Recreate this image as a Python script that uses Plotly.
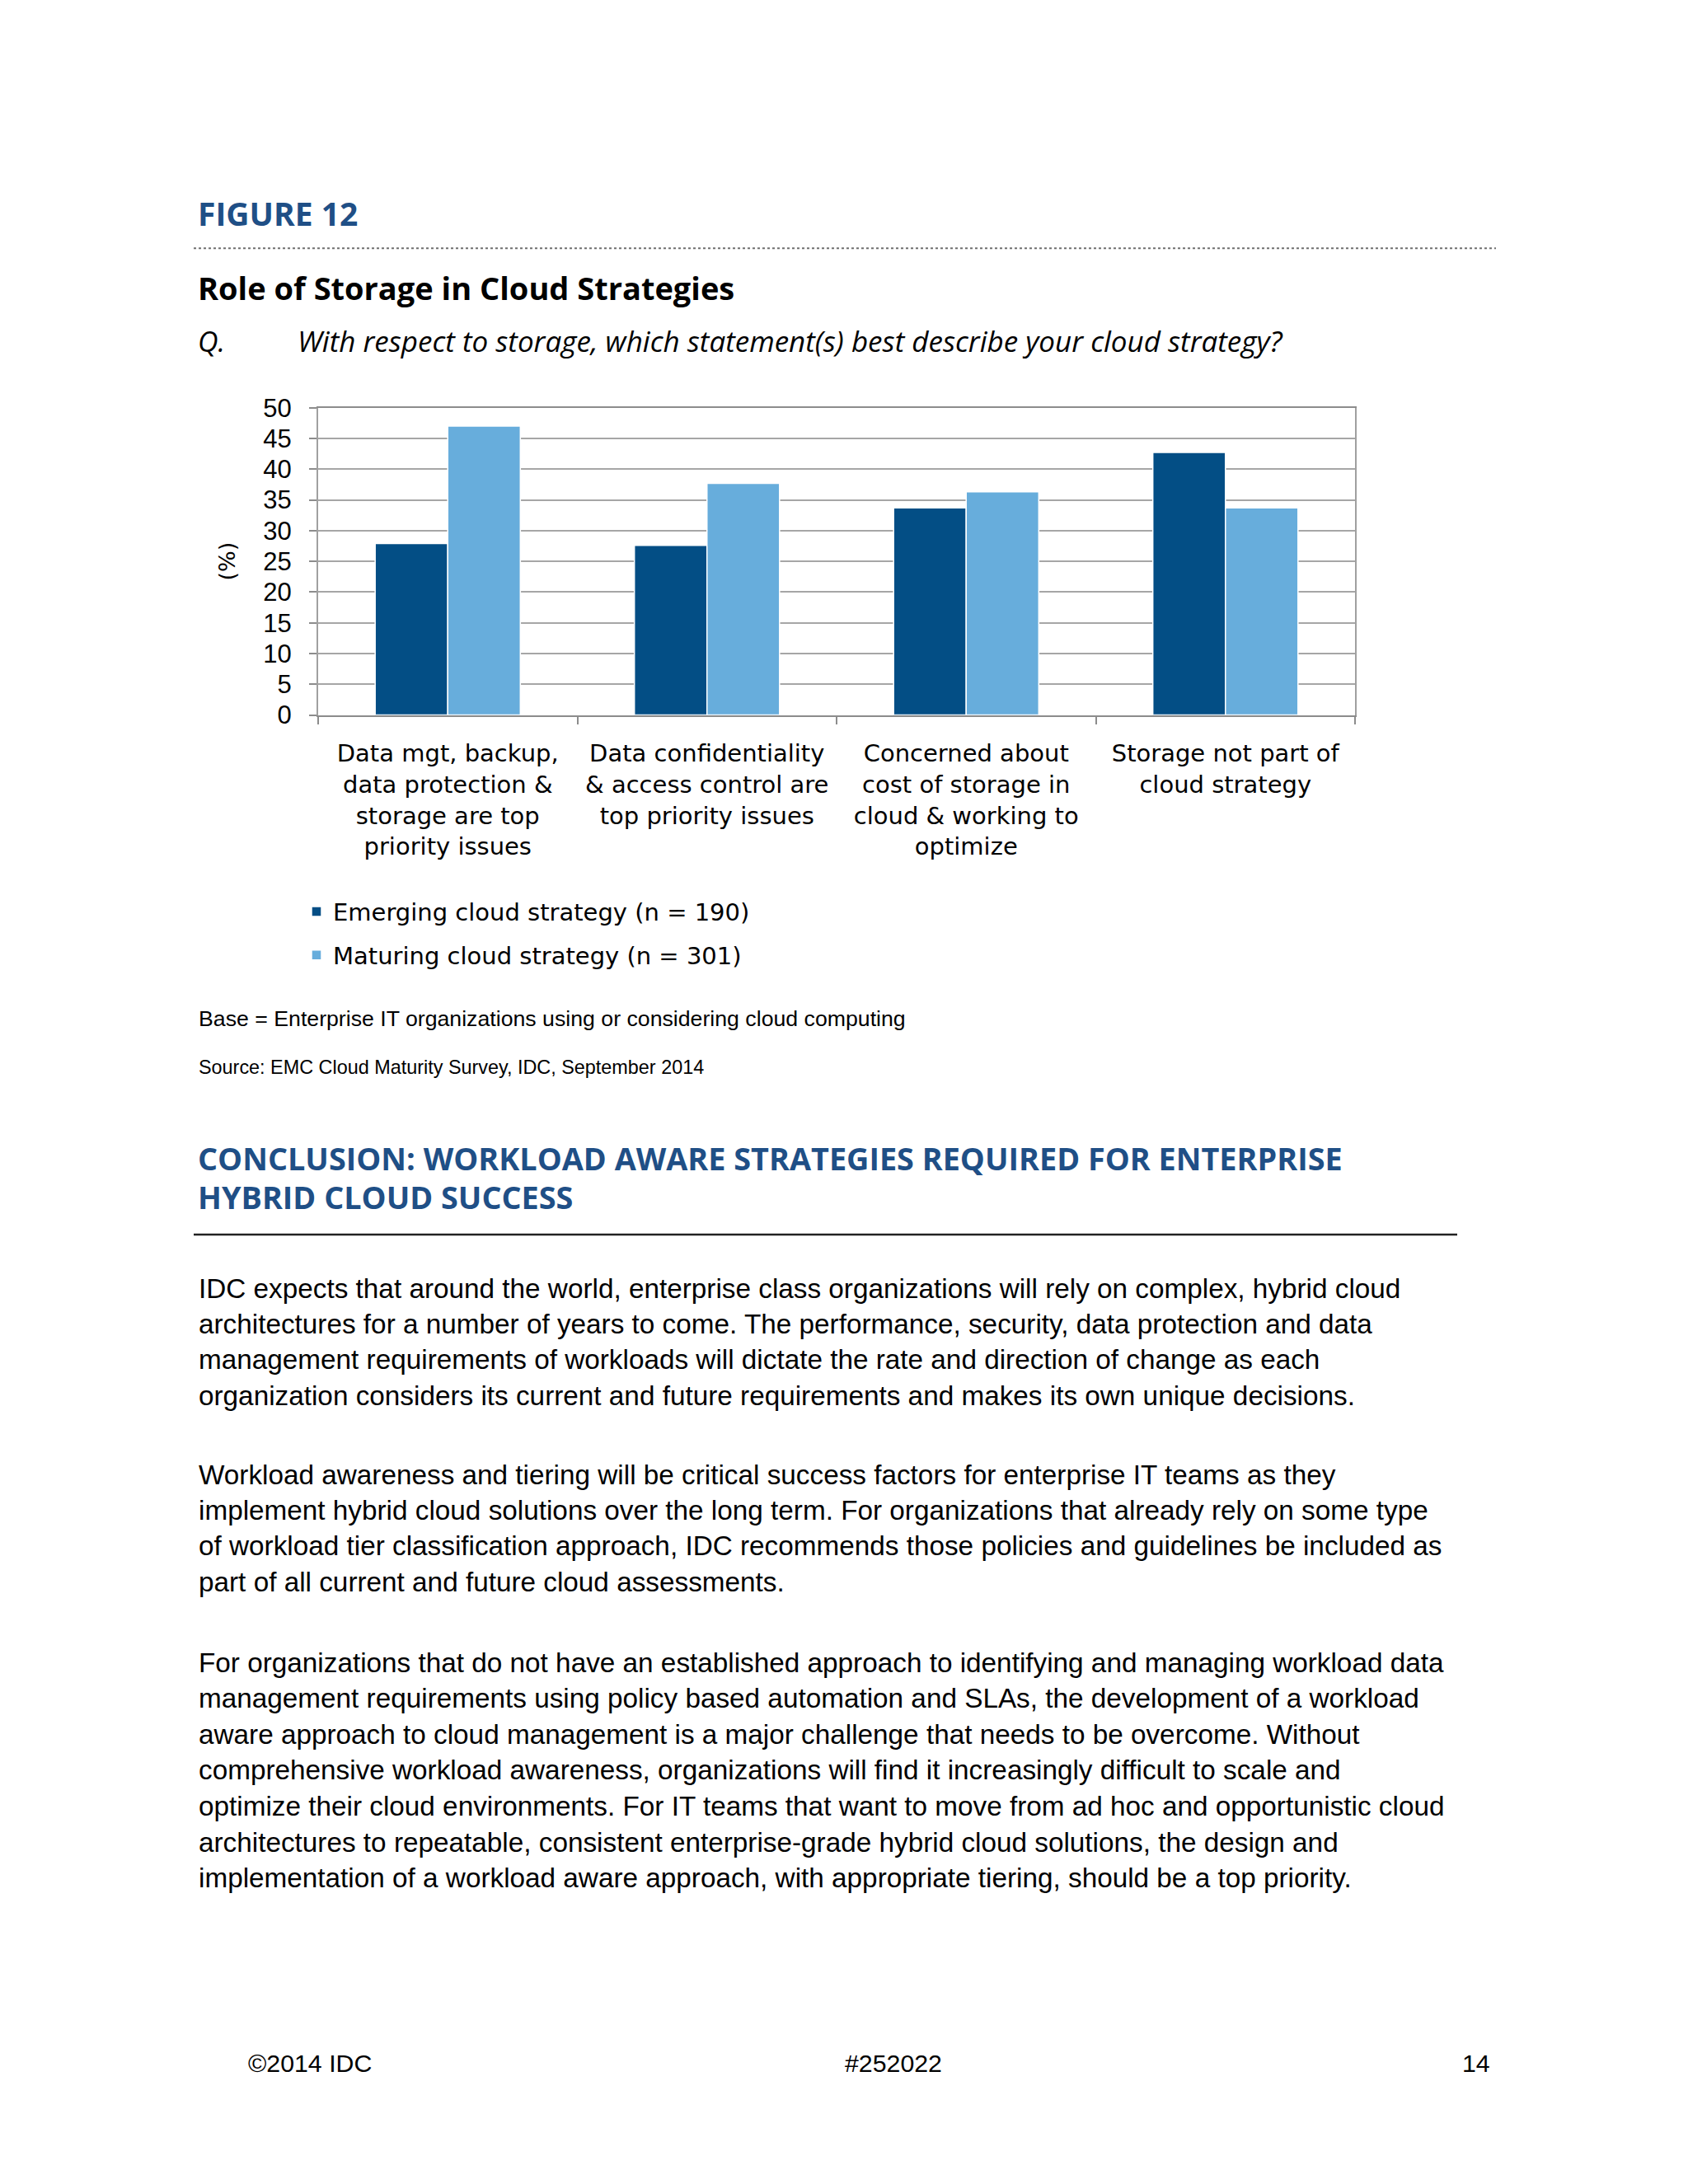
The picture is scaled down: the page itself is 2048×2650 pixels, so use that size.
import plotly.graph_objects as go

# survey data (percent of respondents)
categories = [
    "Data mgt, backup,<br>data protection &<br>storage are top<br>priority issues",
    "Data confidentiality<br>& access control are<br>top priority issues",
    "Concerned about<br>cost of storage in<br>cloud & working to<br>optimize",
    "Storage not part of<br>cloud strategy",
]
emerging = [27.9, 27.6, 33.7, 42.7]
maturing = [47.0, 37.7, 36.3, 33.7]
series_names = ["Emerging cloud strategy (n = 190)", "Maturing cloud strategy (n = 301)"]
y_ticks = [0, 5, 10, 15, 20, 25, 30, 35, 40, 45, 50]

para1 = [
    "IDC expects that around the world, enterprise class organizations will rely on complex, hybrid cloud",
    "architectures for a number of years to come. The performance, security, data protection and data",
    "management requirements of workloads will dictate the rate and direction of change as each",
    "organization considers its current and future requirements and makes its own unique decisions.",
]
para2 = [
    "Workload awareness and tiering will be critical success factors for enterprise IT teams as they",
    "implement hybrid cloud solutions over the long term. For organizations that already rely on some type",
    "of workload tier classification approach, IDC recommends those policies and guidelines be included as",
    "part of all current and future cloud assessments.",
]
para3 = [
    "For organizations that do not have an established approach to identifying and managing workload data",
    "management requirements using policy based automation and SLAs, the development of a workload",
    "aware approach to cloud management is a major challenge that needs to be overcome. Without",
    "comprehensive workload awareness, organizations will find it increasingly difficult to scale and",
    "optimize their cloud environments. For IT teams that want to move from ad hoc and opportunistic cloud",
    "architectures to repeatable, consistent enterprise-grade hybrid cloud solutions, the design and",
    "implementation of a workload aware approach, with appropriate tiering, should be a top priority.",
]

# figure kept a bit smaller than the window so the page never scrolls
W, H = 2020, 2620
OFF = 8   # default body margin

def xp(px):
    return (px - OFF) / W

def yp(py):
    return 1 - (py - OFF) / H

DARK = "#034e85"
LIGHT = "#67addc"
HEAD_BLUE = "#1f4f86"
CHART_FONT = "DejaVu Sans"
BODY_FONT = "Liberation Sans"
HEAD_FONT = "Open Sans"

fig = go.Figure()
fig.add_trace(go.Bar(name=series_names[0], x=categories, y=emerging,
                     marker=dict(color=DARK, line=dict(color="white", width=1.5)),
                     legendgroup="a"))
fig.add_trace(go.Bar(name=series_names[1], x=categories, y=maturing,
                     marker=dict(color=LIGHT, line=dict(color="white", width=1.5)),
                     legendgroup="b"))

fig.update_layout(
    width=W, height=H,
    margin=dict(l=0, r=0, t=0, b=0),
    paper_bgcolor="white", plot_bgcolor="white",
    barmode="group", bargap=0.44, bargroupgap=0.0,
    font=dict(family=CHART_FONT, color="black", size=29),
    showlegend=True,
    legend=dict(x=xp(364), y=yp(1078), xanchor="left", yanchor="top",
                font=dict(size=29, family=CHART_FONT), tracegroupgap=12,
                itemwidth=30, bgcolor="rgba(0,0,0,0)"),
)
fig.update_xaxes(
    domain=[xp(386), xp(1644)],
    showline=True, linecolor="#8c8c8c", linewidth=2, mirror=True,
    ticks="outside", tickson="boundaries", ticklen=9, tickcolor="#8c8c8c", tickwidth=2,
    tickfont=dict(size=29, family=CHART_FONT),
    ticklabelstandoff=20,
)
fig.update_yaxes(
    domain=[yp(862), yp(484)],
    range=[0, 50], tickvals=y_ticks,
    showline=True, linecolor="#a0a0a0", linewidth=2, mirror=True,
    showgrid=True, gridcolor="#a6a6a6", gridwidth=2,
    ticks="outside", ticklen=9, tickcolor="#8c8c8c", tickwidth=2,
    tickfont=dict(size=31, family="Liberation Sans"),
    ticklabelstandoff=15,
    title=dict(text="(%)", font=dict(size=27, family=CHART_FONT), standoff=26),
    zeroline=False,
)

ann = []
def txt(s, x, y, size, family, color="black", xanchor="left", bold=False, italic=False):
    if bold:
        s = "<b>" + s + "</b>"
    if italic:
        s = "<i>" + s + "</i>"
    ann.append(dict(text=s, x=xp(x), y=yp(y), xref="paper", yref="paper",
                    xanchor=xanchor, yanchor="middle", showarrow=False,
                    font=dict(size=size, family=family, color=color)))

txt("FIGURE 12", 238, 245, 39, HEAD_FONT, HEAD_BLUE, bold=True)
txt("Role of Storage in Cloud Strategies", 238, 336, 38, HEAD_FONT, bold=True)
txt("Q.", 238, 402, 34, HEAD_FONT, italic=True)
txt("With respect to storage, which statement(s) best describe your cloud strategy?",
    359, 402, 35, HEAD_FONT, italic=True)

txt("Base = Enterprise IT organizations using or considering cloud computing", 239, 1235, 26.7, BODY_FONT)
txt("Source: EMC Cloud Maturity Survey, IDC, September 2014", 239, 1295, 23.4, BODY_FONT)

txt("CONCLUSION: WORKLOAD AWARE STRATEGIES REQUIRED FOR ENTERPRISE", 238, 1407, 37.8, HEAD_FONT, HEAD_BLUE, bold=True)
txt("HYBRID CLOUD SUCCESS", 238, 1455, 37.8, HEAD_FONT, HEAD_BLUE, bold=True)

for i, line in enumerate(para1):
    txt(line, 239, 1567 + i * 43.9, 33.3, BODY_FONT)
for i, line in enumerate(para2):
    txt(line, 239, 1796 + i * 43.9, 33.3, BODY_FONT)
for i, line in enumerate(para3):
    txt(line, 239, 2027 + i * 44.2, 33.3, BODY_FONT)

txt("©2014 IDC", 299, 2520, 30.3, BODY_FONT)
txt("#252022", 1084, 2520, 30.3, BODY_FONT, xanchor="center")
txt("14", 1810, 2520, 30.3, BODY_FONT, xanchor="right")

fig.update_layout(annotations=ann)

# dotted rule under the figure number, solid rule under the conclusion heading
fig.add_shape(type="line", xref="paper", yref="paper", x0=xp(235), x1=xp(1815), y0=yp(288), y1=yp(288),
              line=dict(color="#707070", width=2, dash="dot"))
fig.add_shape(type="line", xref="paper", yref="paper", x0=xp(235), x1=xp(1768), y0=yp(1501), y1=yp(1501),
              line=dict(color="#222222", width=2.5))

fig.write_html("out.html")
